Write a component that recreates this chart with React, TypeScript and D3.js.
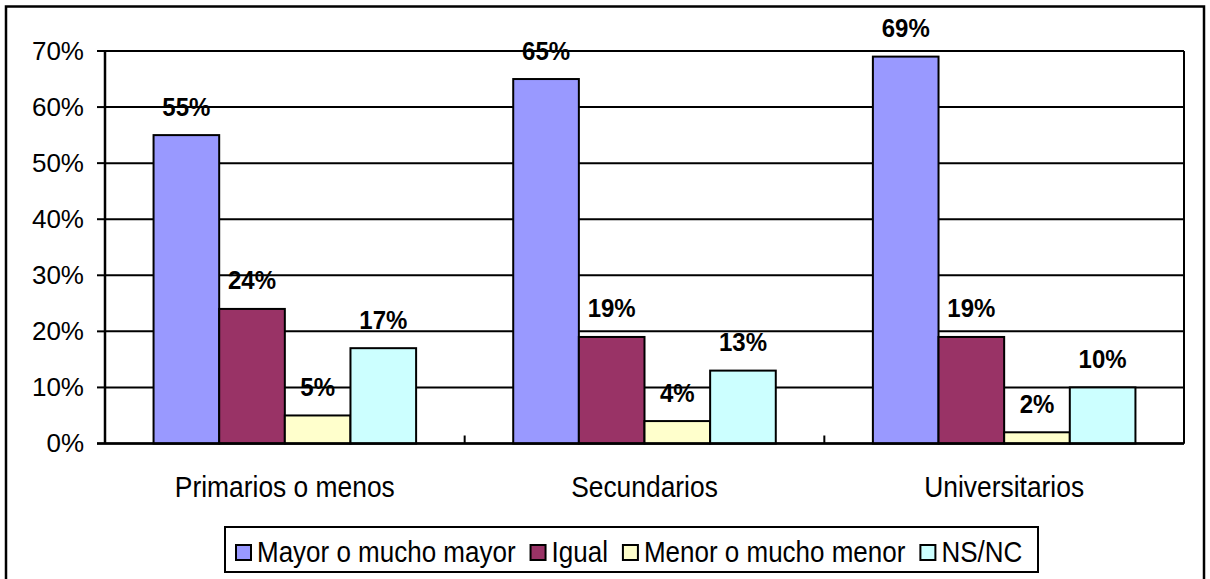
import React, { useEffect, useRef } from "react";
import * as d3 from "d3";

const categories = ["Primarios o menos", "Secundarios", "Universitarios"];
const seriesNames = ["Mayor o mucho mayor", "Igual", "Menor o mucho menor", "NS/NC"];
const mayorValues = [55, 65, 69];
const igualValues = [24, 19, 19];
const menorValues = [5, 4, 2];
const nsncValues = [17, 13, 10];
const seriesColors = ["#9999FF", "#993366", "#FFFFCC", "#CCFFFF"];
const yTicks = [0, 10, 20, 30, 40, 50, 60, 70];

const FONT = "'Liberation Sans', Arial, sans-serif";

export default function App() {
  const ref = useRef<SVGSVGElement | null>(null);

  useEffect(() => {
    const svg = d3.select(ref.current);
    svg.selectAll("*").remove();

    const left = 105, right = 1184, top = 51, bottom = 443.5;
    const series = [mayorValues, igualValues, menorValues, nsncValues];

    // outer border
    svg.append("rect")
      .attr("x", 6).attr("y", 6.5).attr("width", 1198).attr("height", 590)
      .attr("fill", "white").attr("stroke", "black").attr("stroke-width", 2.5);

    const x0 = d3.scaleBand<string>().domain(categories).range([left, right])
      .paddingInner(0.27).paddingOuter(0.135);
    const x1 = d3.scaleBand<number>().domain(d3.range(series.length)).range([0, x0.bandwidth()]);
    const y = d3.scaleLinear().domain([0, 70]).range([bottom, top]);

    // gridlines
    svg.append("g").selectAll("line").data(yTicks).join("line")
      .attr("x1", left).attr("x2", right)
      .attr("y1", d => y(d)).attr("y2", d => y(d))
      .attr("stroke", "black").attr("stroke-width", 2);

    // right plot border
    svg.append("line").attr("x1", right).attr("x2", right).attr("y1", top).attr("y2", bottom)
      .attr("stroke", "black").attr("stroke-width", 2);

    // bars
    const g = svg.append("g");
    categories.forEach((c, ci) => {
      series.forEach((vals, si) => {
        const v = vals[ci];
        const bx = (x0(c) as number) + (x1(si) as number);
        g.append("rect")
          .attr("x", bx).attr("y", y(v))
          .attr("width", x1.bandwidth()).attr("height", y(0) - y(v))
          .attr("fill", seriesColors[si]).attr("stroke", "black").attr("stroke-width", 2);
        const lx = bx + x1.bandwidth() / 2, ly = y(v) - 19.5;
        g.append("text")
          .attr("transform", `translate(${lx},${ly}) scale(1,1.05)`)
          .attr("text-anchor", "middle")
          .attr("font-family", FONT).attr("font-size", 24).attr("font-weight", "bold")
          .attr("fill", "black")
          .text(`${v}%`);
      });
    });

    // y axis
    svg.append("line").attr("x1", left).attr("x2", left).attr("y1", top).attr("y2", bottom)
      .attr("stroke", "black").attr("stroke-width", 2.5);
    const yt = svg.append("g");
    yt.selectAll("line").data(yTicks).join("line")
      .attr("x1", left - 8).attr("x2", left)
      .attr("y1", d => y(d)).attr("y2", d => y(d))
      .attr("stroke", "black").attr("stroke-width", 2);
    yt.selectAll("text").data(yTicks).join("text")
      .attr("x", 84).attr("y", d => y(d) + 8.7)
      .attr("text-anchor", "end")
      .attr("font-family", FONT).attr("font-size", 26).attr("fill", "black")
      .text(d => `${d}%`);

    // x axis
    svg.append("line").attr("x1", left - 8).attr("x2", right).attr("y1", bottom).attr("y2", bottom)
      .attr("stroke", "black").attr("stroke-width", 2.5);
    const step = x0.step();
    const bounds = d3.range(categories.length + 1).map(i => left + i * step);
    svg.append("g").selectAll("line").data(bounds).join("line")
      .attr("x1", d => d).attr("x2", d => d)
      .attr("y1", bottom).attr("y2", bottom - 8)
      .attr("stroke", "black").attr("stroke-width", 2);
    svg.append("g").selectAll("text").data(categories).join("text")
      .attr("transform", d => `translate(${(x0(d) as number) + x0.bandwidth() / 2},496.5) scale(1,1.12)`)
      .attr("text-anchor", "middle")
      .attr("font-family", FONT).attr("font-size", 26.4).attr("fill", "black")
      .text(d => d);

    // legend
    const lg = svg.append("g");
    lg.append("rect").attr("x", 225).attr("y", 527).attr("width", 813).attr("height", 45)
      .attr("fill", "white").attr("stroke", "black").attr("stroke-width", 2);
    let cx = 236;
    seriesNames.forEach((name, i) => {
      lg.append("rect").attr("x", cx).attr("y", 545).attr("width", 15).attr("height", 15)
        .attr("fill", seriesColors[i]).attr("stroke", "black").attr("stroke-width", 2);
      const t = lg.append("text")
        .attr("transform", `translate(${cx + 21},561.5) scale(1,1.12)`)
        .attr("font-family", FONT).attr("font-size", 26).attr("fill", "black")
        .text(name);
      const w = (t.node() as SVGTextElement).getComputedTextLength();
      cx = cx + 21 + w + 15;
    });
  }, []);

  return (
    <div style={{ position: "absolute", left: 0, top: 0 }}>
      <svg ref={ref} width={1210} height={579} style={{ display: "block", background: "white" }} />
    </div>
  );
}
